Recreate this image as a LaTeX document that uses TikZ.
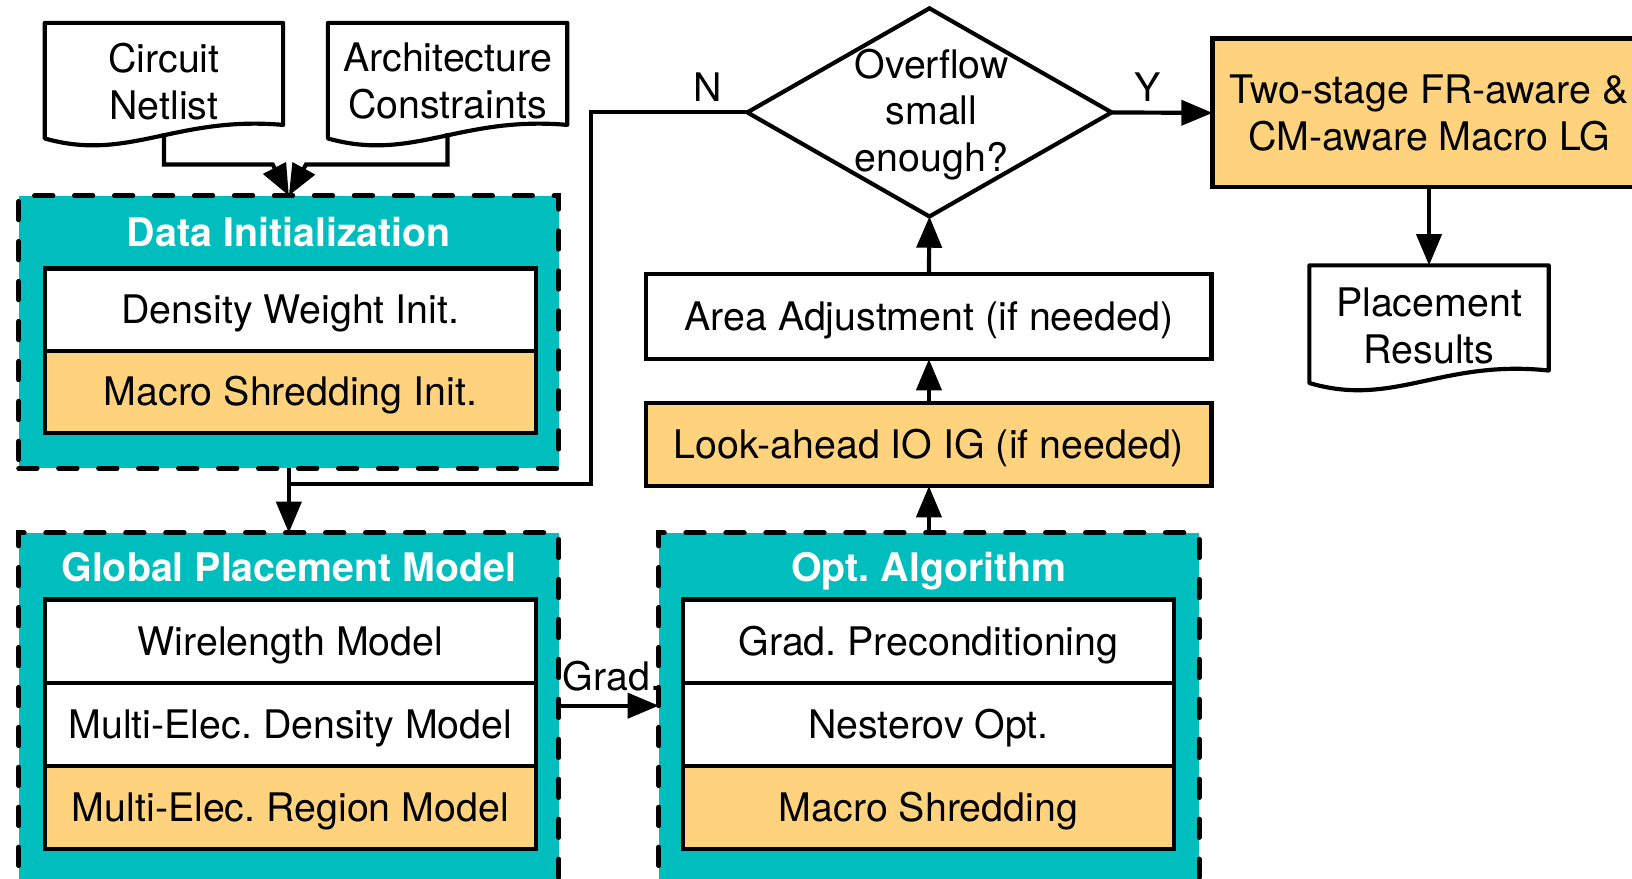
\documentclass[tikz,border=0pt]{standalone}
\usepackage{fontspec}
\setmainfont{TeX Gyre Heros}
\usetikzlibrary{shapes.geometric,arrows.meta}
\definecolor{tealc}{RGB}{0,190,190}
\definecolor{orng}{RGB}{255,211,125}
\frenchspacing
\tikzset{
 every node/.style={font=\frenchspacing\fontsize{37.8}{45}\selectfont, inner sep=0pt, outer sep=0pt},
 ln/.style={line width=4pt},
 arr/.style={line width=4pt, -{Triangle[length=30pt,width=24pt]}},
 box/.style={draw, line width=4pt, fill=white, minimum width=472pt, text height=27pt, text depth=0pt},
 obox/.style={box, fill=orng},
 grp/.style={draw, line width=4.8pt, line cap=round, dash pattern=on 17.6pt off 20.8pt, fill=tealc, minimum width=519pt},
 ttl/.style={text=white, font=\frenchspacing\fontsize{37.8}{45}\selectfont\bfseries, text height=27pt, text depth=0pt},
 docshape/.style={draw, line width=4pt, fill=white, line join=round},
 lbl/.style={text height=27pt, text depth=0pt},
}
\begin{document}
\begin{tikzpicture}[x=1pt,y=-1pt]
\useasboundingbox (0,0) rectangle (1568,844);
\clip (0,0) rectangle (1568,844);
% input documents
\draw[docshape] (43,22) -- (272,22) -- (272,120) .. controls (169,111) and (123,156) .. (43,133) -- cycle;
\node[align=center] (cn) at (157.5,78) {Circuit\\Netlist};
\draw[docshape] (315,22) -- (545,22) -- (545,120) .. controls (442,111) and (396,156) .. (315,133) -- cycle;
\node[align=center] (ac) at (430,78) {Architecture\\Constraints};
\coordinate (cnb) at (157.5,128);
\coordinate (acb) at (430,128);
% Data initialization group
\node[grp, minimum height=262pt] (di) at (277.5,319) {};
\node[ttl] (dit) at (277.5,223) {Data Initialization};
\node[box, minimum height=79pt] (dw) at (279,297.5) {Density Weight Init.};
\node[obox, minimum height=79pt] (msi) at (279,376.5) {Macro Shredding Init.};
% Global placement model group
\node[grp, minimum height=388pt] (gpm) at (277.5,706) {};
\node[ttl] (gpmt) at (277.5,545) {Global Placement Model};
\node[box, minimum height=80pt] (wl) at (279,616) {Wirelength Model};
\node[box, minimum height=80pt] (md) at (279,696) {Multi-Elec. Density Model};
\node[obox, minimum height=80pt] (mr) at (279,776) {Multi-Elec. Region Model};
% Opt algorithm group
\node[grp, minimum height=388pt] (opt) at (892.5,706) {};
\node[ttl] (optt) at (892.5,545) {Opt. Algorithm};
\node[box, minimum height=80pt] (gp) at (892,616) {Grad. Preconditioning};
\node[box, minimum height=80pt] (no) at (892,696) {Nesterov Opt.};
\node[obox, minimum height=80pt] (msh) at (892,776) {Macro Shredding};
% right column
\node[obox, minimum width=543pt, minimum height=80pt] (la) at (892.5,427) {Look-ahead IO IG (if needed)};
\node[box, minimum width=543pt, minimum height=82pt] (aa) at (892.5,304) {Area Adjustment (if needed)};
\node[diamond, draw, line width=4pt, minimum width=350pt, minimum height=200pt] (dec) at (893,108) {};
\node[align=center] (dect) at (895,110) {Overflow\\small\\enough?};
\node[draw, line width=4pt, fill=orng, minimum width=416pt, minimum height=143pt, align=center] (ts) at (1373,108.5) {Two-stage FR-aware \&\\CM-aware Macro LG};
\draw[docshape] (1258,255) -- (1488,255) -- (1488,356) .. controls (1385,345) and (1339,392) .. (1258,368) -- cycle;
\node[align=center] (pr) at (1373,313) {Placement\\Results};
\coordinate (prt) at (1373,255);
% connectors
\draw[arr] (cnb) |- (262,158) -- (di.north);
\draw[arr] (acb) |- (294,158) -- (di.north);
\draw[arr] (di.south) -- (gpm.north);
\coordinate (nj) at (277.5,465);
\draw[ln] (dec.west) -| (568,465) -- (nj);
\node[lbl] (nl) at (680,84) {N};
\draw[arr] (dec.east) -- (ts.west);
\node[lbl] (yl) at (1103,84) {Y};
\draw[arr] (ts.south) -- (prt);
\draw[arr] (opt.north) -- (la.south);
\draw[arr] (la.north) -- (aa.south);
\draw[arr] (aa.north) -- (dec.south);
\coordinate (g1) at (537,678);
\draw[arr] (g1) -- (opt.west |- g1);
\node[lbl] (gl) at (588,650) {Grad.};
\end{tikzpicture}
\end{document}
